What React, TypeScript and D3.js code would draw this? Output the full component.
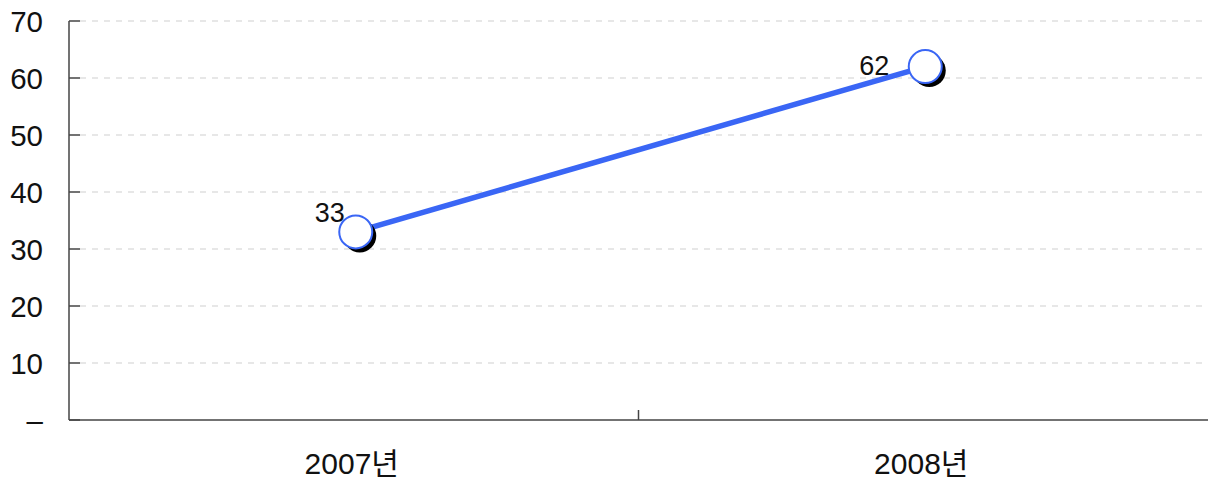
import React from 'react';
import * as d3 from 'd3';

const categories = ['2007년', '2008년'];
const values = [33, 62];
const yTicks = [0, 10, 20, 30, 40, 50, 60, 70];

const W = 1208;
const H = 480;
const margin = { top: 21, right: 0, bottom: 60, left: 69 };
const FONT = '"Liberation Sans", "Noto Sans CJK KR", sans-serif';
// label placement next to each marker
const labelDx = [-11, -36];
const labelDy = [-10, 8];

export default function App() {
  const x = d3.scaleBand().domain(categories).range([margin.left, W - margin.right]);
  const y = d3.scaleLinear().domain([0, 70]).range([H - margin.bottom, margin.top]);

  const pts: [number, number][] = categories.map((c, i) => [x(c)! + x.bandwidth() / 2 + 2, y(values[i])]);
  const line = d3.line()(pts) || '';
  const x0 = margin.left;
  const x1 = W - margin.right;
  const yb = y(0);

  return (
    <svg width={W} height={H} style={{ position: 'absolute', left: 0, top: 0, fontFamily: FONT }}>
      {/* grid + y ticks */}
      {yTicks.map(t => (
        <g key={t}>
          {t > 0 && (
            <line x1={x0 + 11} x2={x1} y1={y(t)} y2={y(t)} stroke="#cfcfcf" strokeWidth={1} strokeDasharray="6,6" />
          )}
          <line x1={x0} x2={x0 + 11} y1={y(t)} y2={y(t)} stroke="#444" strokeWidth={1.5} />
          <text x={43} y={y(t)} dy="0.36em" textAnchor="end" fontSize={29.5} fill="#111">
            {t === 0 ? '–' : t}
          </text>
        </g>
      ))}
      {/* axes */}
      <line x1={x0} x2={x0} y1={margin.top} y2={yb} stroke="#444" strokeWidth={1.5} />
      <line x1={x0} x2={x1} y1={yb} y2={yb} stroke="#444" strokeWidth={1.5} />
      {categories.slice(1).map(c => (
        <line key={c} x1={x(c)!} x2={x(c)!} y1={yb - 10} y2={yb} stroke="#444" strokeWidth={1.5} />
      ))}
      {categories.map(c => (
        <text key={c} x={x(c)! + x.bandwidth() / 2 - 2} y={474} textAnchor="middle" fontSize={30} fill="#111">
          {c}
        </text>
      ))}
      {/* series */}
      <path d={line} fill="none" stroke="#3a66f5" strokeWidth={5.5} />
      {pts.map(([px, py], i) => (
        <g key={i}>
          <circle cx={px + 4} cy={py + 4} r={16.5} fill="#000" />
          <circle cx={px} cy={py} r={16.5} fill="#fff" stroke="#3a66f5" strokeWidth={2} />
          <text x={px + labelDx[i]} y={py + labelDy[i]} textAnchor="end" fontSize={27} fill="#111">
            {values[i]}
          </text>
        </g>
      ))}
    </svg>
  );
}
